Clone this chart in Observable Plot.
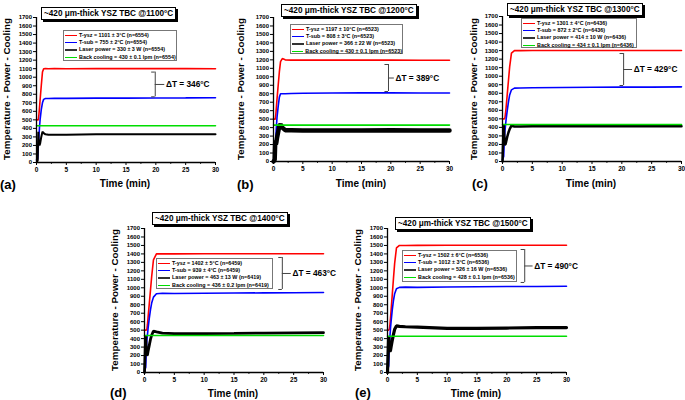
<!DOCTYPE html>
<html><head><meta charset="utf-8">
<script src="https://cdn.jsdelivr.net/npm/d3@7"></script>
<script src="https://cdn.jsdelivr.net/npm/@observablehq/plot@0.6"></script>
<style>
body{margin:0;background:#fff;}
#root{position:relative;width:685px;height:400px;overflow:hidden;font-family:"Liberation Sans",Arial,sans-serif;font-weight:bold;color:#000;background:#fff}
.pw{position:absolute}
.pw svg{background:transparent;max-width:none}
.ttl{position:absolute;border:1px solid #000;box-shadow:2px 2px 0 #000;background:#fff;font-size:8.2px;line-height:11px;padding:0 2px;white-space:nowrap}
.ylab{position:absolute;transform:translate(-50%,-50%) rotate(-90deg);font-size:9.8px;white-space:nowrap}
.xlab{position:absolute;transform:translate(-50%,-50%);font-size:10px;white-space:nowrap}
.plab{position:absolute;transform:translateY(-50%);font-size:13px}
.leg{position:absolute;border:1px solid #777;background:#fff;font-size:5.4px;box-sizing:border-box;padding-top:1px}
.leg .row{height:7.2px;line-height:7.2px;white-space:nowrap;display:flex;align-items:center}
.leg .sw{display:inline-block;width:12px;height:0;border-top:1.5px solid;margin:0 2px 0 1px}
</style></head><body><div id="root"></div>
<script>
// ---- data ----
const times = [0,0.2,0.3,0.4,0.5,0.6,0.8,1.0,1.2,1.5,2,3,5,10,15,20,25,30];

const yszA   = [500,500,500,560,640,730,900,1060,1100,1102,1100,1101,1100,1101,1101,1102,1101,1100];
const subA   = [30,40,180,300,410,500,620,700,740,750,750,752,752,755,755,757,758,760];
const laserA = [0,20,360,220,200,220,300,360,345,330,325,325,325,330,330,332,330,330];
const coolA  = [430,430,430,430,430,430,430,430,430,430,430,430,430,430,430,430,430,430];

const yszB   = [500,500,500,560,650,740,900,1060,1180,1215,1200,1197,1197,1197,1197,1198,1195,1195];
const subB   = [20,30,150,300,420,520,650,760,800,800,800,802,805,808,810,810,808,808];
const laserB = [0,20,250,200,230,280,350,420,440,400,370,370,365,365,365,370,365,365];
const coolB  = [430,430,430,430,430,430,430,430,430,430,430,430,430,430,430,430,430,430];

const yszC   = [500,500,500,510,560,630,790,950,1110,1270,1300,1300,1301,1301,1301,1301,1301,1301];
const subC   = [20,60,250,350,420,490,600,700,780,840,860,862,865,868,870,872,872,875];
const laserC = [0,430,300,200,200,230,290,340,380,420,410,410,414,414,414,414,414,414];
const coolC  = [434,434,434,434,434,434,434,434,434,434,434,434,434,434,434,434,434,434];

const yszD   = [500,500,500,510,570,650,810,970,1130,1330,1400,1400,1401,1402,1402,1402,1402,1402];
const subD   = [20,60,250,380,450,520,640,740,820,890,930,935,932,935,938,940,942,945];
const laserD = [0,440,250,200,210,250,320,390,440,490,480,465,460,460,462,465,468,470];
const coolD  = [436,436,436,436,436,436,436,436,436,436,436,436,436,436,436,436,436,436];

const yszE   = [500,500,510,560,640,730,920,1110,1290,1470,1500,1500,1501,1502,1502,1502,1502,1502];
const subE   = [20,80,300,420,520,600,740,850,930,990,1005,1008,1005,1010,1012,1015,1015,1018];
const laserE = [0,430,280,250,260,300,380,450,510,550,545,540,535,520,520,525,530,530];
const coolE  = [428,428,428,428,428,428,428,428,428,428,428,428,428,428,428,428,428,428];

const seriesColors = ["#ff0000","#0000ff","#000000","#00dd00"];
const yTicks = [0,100,200,300,400,500,600,700,800,900,1000,1100,1200,1300,1400,1500,1600,1700];
const xTicks = [0,5,10,15,20,25,30];
const xMinor = [2.5,7.5,12.5,17.5,22.5,27.5];

const titles = ["~420 μm-thick YSZ TBC @1100°C","~420 μm-thick YSZ TBC @1200°C","~420 μm-thick YSZ TBC @1300°C","~420 μm-thick YSZ TBC @1400°C","~420 μm-thick YSZ TBC @1500°C"];
const legendA = ["T-ysz = 1101 ± 3°C (n=6554)","T-sub = 755 ± 2°C (n=6554)","Laser power = 330 ± 3 W (n=6554)","Back cooling = 430 ± 0.1 lpm (n=6554)"];
const legendB = ["T-ysz = 1197 ± 10°C (n=6523)","T-sub = 808 ± 3°C (n=6523)","Laser power = 366 ± 22 W (n=6523)","Back cooling = 430 ± 0.1 lpm (n=6523)"];
const legendC = ["T-ysz = 1301 ± 4°C (n=6436)","T-sub = 872 ± 2°C (n=6436)","Laser power = 414 ± 10 W (n=6436)","Back cooling = 434 ± 0.1 lpm (n=6436)"];
const legendD = ["T-ysz = 1402 ± 5°C (n=6459)","T-sub = 939 ± 4°C (n=6459)","Laser power = 463 ± 13 W (n=6419)","Back cooling = 436 ± 0.2 lpm (n=6419)"];
const legendE = ["T-ysz = 1502 ± 6°C (n=6536)","T-sub = 1012 ± 3°C (n=6536)","Laser power = 526 ± 16 W (n=6536)","Back cooling = 428 ± 0.1 lpm (n=6536)"];
const deltaLabels = ["ΔT = 346°C","ΔT = 389°C","ΔT = 429°C","ΔT = 463°C","ΔT = 490°C"];
const panelLetters = ["(a)","(b)","(c)","(d)","(e)"];

// ---- layout ----
const panels = [
  {series:[yszA,subA,laserA,coolA], legend:legendA, bw:2,
   box:{left:0,top:0,width:228,height:200,ml:36,mr:13,mt:17,mb:38},
   bracket:{x:19.9,y1:1060,y2:770,tx:21.7},
   ttl:[41,7], leg:[63,30,114,31], ylab:[6,89], xlab:[125,183], plab:[0,184]},
  {series:[yszB,subB,laserB,coolB], legend:legendB, bw:4.5,
   box:{left:225,top:0,width:230,height:200,ml:48,mr:6,mt:17,mb:39},
   bracket:{x:19.6,y1:1145,y2:826,tx:20.8},
   ttl:[281,4], leg:[290,24,113,30], ylab:[240,89], xlab:[361,183], plab:[237,184]},
  {series:[yszC,subC,laserC,coolC], legend:legendC, bw:2.5,
   box:{left:455,top:0,width:230,height:200,ml:47,mr:4,mt:16,mb:39},
   bracket:{x:20.3,y1:1266,y2:891,tx:22.0},
   ttl:[507,3], leg:[521,18,116,30], ylab:[473,89], xlab:[591,183], plab:[472,183]},
  {series:[yszD,subD,laserD,coolD], legend:legendD, bw:2.8,
   box:{left:100,top:200,width:230,height:200,ml:44,mr:7,mt:28,mb:28},
   bracket:{x:23.1,y1:1358,y2:980,tx:24.8},
   ttl:[152,212], leg:[156,258,117,31], ylab:[114,300], xlab:[233,393], plab:[110,392]},
  {series:[yszE,subE,laserE,coolE], legend:legendE, bw:3.2,
   box:{left:340,top:200,width:235,height:200,ml:47,mr:9,mt:28,mb:28},
   bracket:{x:23.0,y1:1452,y2:1063,tx:24.6},
   ttl:[395,217], leg:[402,250,115,32], ylab:[357,300], xlab:[476,393], plab:[355,392]}
];

const root = document.getElementById("root");

function addDiv(cls, text, left, top){
  const d = document.createElement("div");
  d.className = cls; d.textContent = text;
  d.style.left = left + "px"; d.style.top = top + "px";
  root.appendChild(d); return d;
}

panels.forEach((p, k) => {
  const b = p.box;
  const lineMarks = p.series.map((vals, si) =>
    Plot.line(vals.map((v, i) => ({t: times[i], v})), {
      x: "t", y: "v", stroke: seriesColors[si],
      strokeWidth: si === 2 ? p.bw : 1.6, strokeLinejoin: "miter"
    }));
  const br = p.bracket;
  const mid = (br.y1 + br.y2) / 2;
  const chart = Plot.plot({
    width: b.width, height: b.height,
    marginLeft: b.ml, marginRight: b.mr, marginTop: b.mt, marginBottom: b.mb,
    x: {domain: [0, 30]},
    y: {domain: [0, 1700]},
    style: {background: "transparent", fontFamily: "Liberation Sans, Arial, sans-serif", fontWeight: "bold", overflow: "visible"},
    marks: [
      Plot.axisY({ticks: yTicks, tickSize: 3, tickPadding: 1.5, label: null, fontSize: 6, tickFormat: d => String(d), strokeWidth: 1}),
      Plot.axisX({ticks: xTicks, tickSize: 3, tickPadding: 2, label: null, fontSize: 6.5, strokeWidth: 1}),
      Plot.axisX({ticks: xMinor, tickSize: 1.8, text: null, label: null, strokeWidth: 1}),
      ...lineMarks,
      Plot.ruleX([0], {stroke: "#000", strokeWidth: 1.3}),
      Plot.ruleY([0], {stroke: "#000", strokeWidth: 1.3}),
      Plot.ruleX([br], {x: "x", y1: "y1", y2: "y2", stroke: "#444", strokeWidth: 1}),
      Plot.ruleY([br], {y: "y1", x1: d => d.x - 0.6, x2: "x", stroke: "#444", strokeWidth: 1}),
      Plot.ruleY([br], {y: "y2", x1: d => d.x - 0.6, x2: "x", stroke: "#444", strokeWidth: 1}),
      Plot.ruleY([br], {y: () => mid, x1: "x", x2: d => d.tx - 0.2, stroke: "#444", strokeWidth: 1}),
      Plot.text([br], {x: "tx", y: () => mid, text: () => deltaLabels[k], textAnchor: "start", fontSize: 8.3, fontWeight: "bold", fill: "#000"})
    ]
  });
  const w = document.createElement("div");
  w.className = "pw";
  w.style.left = b.left + "px"; w.style.top = b.top + "px";
  w.style.width = b.width + "px"; w.style.height = b.height + "px";
  w.appendChild(chart);
  root.appendChild(w);
});

panels.forEach((p, k) => {
  addDiv("ttl", titles[k], p.ttl[0], p.ttl[1]);
  addDiv("ylab", "Temperature - Power - Cooling", p.ylab[0], p.ylab[1]);
  addDiv("xlab", "Time (min)", p.xlab[0], p.xlab[1]);
  addDiv("plab", panelLetters[k], p.plab[0], p.plab[1]);
  const lg = addDiv("leg", "", p.leg[0], p.leg[1]);
  lg.style.width = p.leg[2] + "px"; lg.style.height = p.leg[3] + "px";
  p.legend.forEach((txt, i) => {
    const r = document.createElement("div"); r.className = "row";
    const sw = document.createElement("span"); sw.className = "sw";
    sw.style.borderTopColor = i === 2 ? "#333" : seriesColors[i];
    if (i === 2) sw.style.borderTopWidth = "2px";
    const t = document.createElement("span"); t.textContent = txt;
    r.appendChild(sw); r.appendChild(t); lg.appendChild(r);
  });
});
</script>
</body></html>
